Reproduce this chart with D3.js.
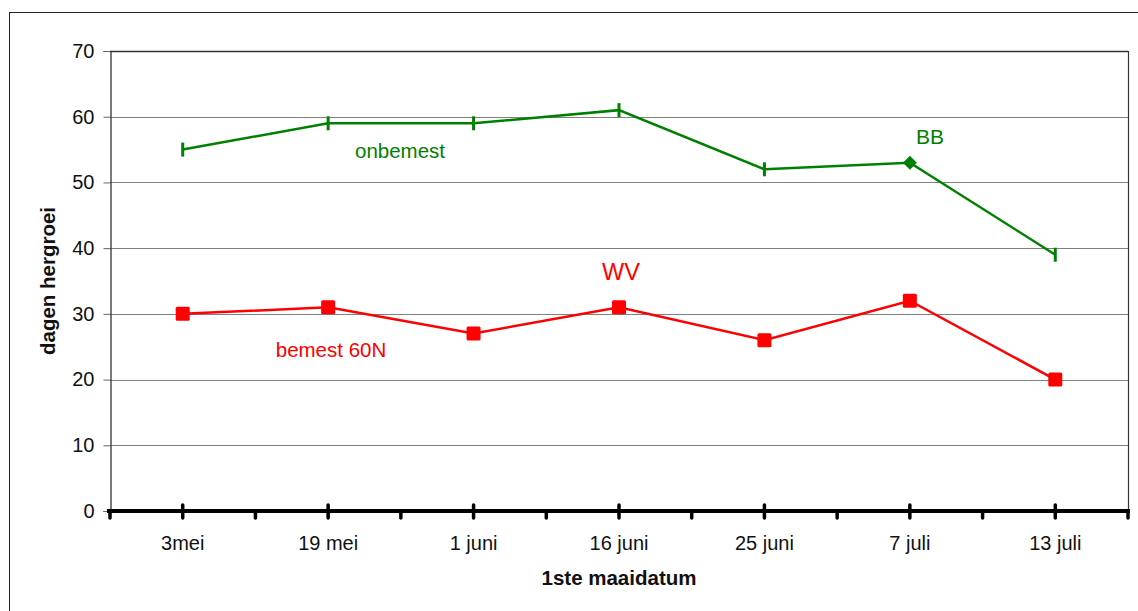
<!DOCTYPE html>
<html>
<head>
<meta charset="utf-8">
<script src="https://cdn.jsdelivr.net/npm/d3@7"></script>
<style>
  html, body { margin: 0; padding: 0; background: #fff; }
  svg { display: block; font-family: "Liberation Sans", Arial, sans-serif; }
</style>
</head>
<body>
<svg id="chart" width="1138" height="611"></svg>
<script>
// Mowing dates and days of regrowth
const categories = ["3mei", "19 mei", "1 juni", "16 juni", "25 juni", "7 juli", "13 juli"];
const onbemest = [55, 59, 59, 61, 52, 53, 39];
const bemest60N = [30, 31, 27, 31, 26, 32, 20];
const yTicks = [0, 10, 20, 30, 40, 50, 60, 70];

const svg = d3.select("#chart");
const W = 1138, H = 611;
const plotLeft = 110, plotRight = 1128, plotTop = 51, plotBottom = 511;

// outer frame
svg.append("rect").attr("x", 9.5).attr("y", 12.5).attr("width", W).attr("height", H)
  .attr("fill", "none").attr("stroke", "#222").attr("stroke-width", 1);

const x = d3.scaleBand().domain(categories).range([plotLeft, plotRight]);
const y = d3.scaleLinear().domain([0, 70]).range([plotBottom, plotTop]);
const cx = d => x(d) + x.bandwidth() / 2;

// horizontal gridlines
svg.append("g").selectAll("line").data(yTicks.filter(t => t > 0)).join("line")
  .attr("x1", plotLeft).attr("x2", plotRight)
  .attr("y1", d => Math.round(y(d)) + 0.5).attr("y2", d => Math.round(y(d)) + 0.5)
  .attr("stroke", d => d === 70 ? "#333" : "#808080").attr("stroke-width", d => d === 70 ? 1.5 : 1);

// right border of the plot
svg.append("line").attr("x1", plotRight + 0.5).attr("x2", plotRight + 0.5).attr("y1", plotTop).attr("y2", plotBottom)
  .attr("stroke", "#333").attr("stroke-width", 1.2);

// y axis
const yAxis = svg.append("g").attr("transform", `translate(${plotLeft + 0.5},0)`)
  .call(d3.axisLeft(y).tickValues(yTicks).tickSize(7).tickPadding(9));
yAxis.select(".domain").attr("stroke", "#222").attr("stroke-width", 1.2);
yAxis.selectAll(".tick line").attr("stroke", "#666");
yAxis.selectAll(".tick text").attr("font-size", 20).attr("fill", "#111")
  .attr("font-family", "Liberation Sans, Arial, sans-serif");

// x axis: thick baseline with tick marks
const xg = svg.append("g");
xg.append("line").attr("x1", plotLeft - 3).attr("x2", plotRight + 2).attr("y1", plotBottom).attr("y2", plotBottom)
  .attr("stroke", "#000").attr("stroke-width", 4);
const bounds = categories.map(c => x(c)).concat([plotRight]);
xg.selectAll("line.minor").data(bounds).join("line").attr("class", "minor")
  .attr("x1", d => d).attr("x2", d => d).attr("y1", plotBottom).attr("y2", plotBottom + 7)
  .attr("stroke", "#000").attr("stroke-width", 3.5).attr("stroke-linecap", "round");
xg.selectAll("line.major").data(categories).join("line").attr("class", "major")
  .attr("x1", d => cx(d)).attr("x2", d => cx(d)).attr("y1", plotBottom - 6).attr("y2", plotBottom + 7)
  .attr("stroke", "#000").attr("stroke-width", 3.5).attr("stroke-linecap", "round");
xg.selectAll("text").data(categories).join("text")
  .attr("x", d => cx(d)).attr("y", 550).attr("text-anchor", "middle")
  .attr("font-size", 20).attr("fill", "#111").text(d => d);

// axis titles
svg.append("text").attr("x", cx(categories[3])).attr("y", 585).attr("text-anchor", "middle")
  .attr("font-size", 20.5).attr("font-weight", "bold").attr("fill", "#111").text("1ste maaidatum");
svg.append("text").attr("transform", `translate(55,${(plotTop + plotBottom) / 2}) rotate(-90)`)
  .attr("text-anchor", "middle").attr("font-size", 20.5).attr("font-weight", "bold")
  .attr("fill", "#111").text("dagen hergroei");

const line = d3.line().x((d, i) => cx(categories[i])).y(d => y(d));

// unfertilised series (green)
const green = "#008000";
svg.append("path").datum(onbemest).attr("d", line).attr("fill", "none")
  .attr("stroke", green).attr("stroke-width", 2.5);
svg.append("g").selectAll("path").data(onbemest).join("path")
  .attr("transform", (d, i) => `translate(${cx(categories[i])},${y(d)})`)
  .attr("d", (d, i) => i === 5 ? "M0,-7L7,0L0,7L-7,0Z" : "M0,-7V7")
  .attr("fill", green).attr("stroke", green).attr("stroke-width", (d, i) => i === 5 ? 0 : 3);

// fertilised series (red)
const red = "#ff0000";
svg.append("path").datum(bemest60N).attr("d", line).attr("fill", "none")
  .attr("stroke", red).attr("stroke-width", 2.5);
svg.append("g").selectAll("rect").data(bemest60N).join("rect")
  .attr("x", (d, i) => cx(categories[i]) - 7).attr("y", d => y(d) - 7)
  .attr("width", 14).attr("height", 14).attr("rx", 1.5).attr("fill", red);

// annotations
svg.append("text").attr("x", 400).attr("y", 158).attr("text-anchor", "middle")
  .attr("font-size", 20.5).attr("fill", green).text("onbemest");
svg.append("text").attr("x", 930).attr("y", 144).attr("text-anchor", "middle")
  .attr("font-size", 21).attr("fill", green).text("BB");
svg.append("text").attr("x", 621).attr("y", 280).attr("text-anchor", "middle")
  .attr("font-size", 23.5).attr("fill", red).text("WV");
svg.append("text").attr("x", 331).attr("y", 357).attr("text-anchor", "middle")
  .attr("font-size", 20.5).attr("fill", red).text("bemest 60N");
</script>
</body>
</html>
